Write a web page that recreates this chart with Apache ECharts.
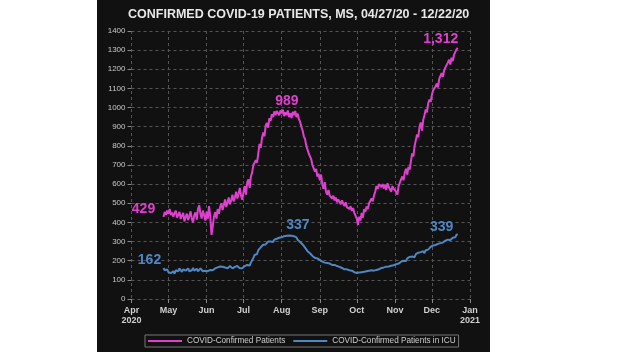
<!DOCTYPE html>
<html><head><meta charset="utf-8">
<script src="https://cdn.jsdelivr.net/npm/echarts@6/dist/echarts.min.js"></script>
<style>
html,body{margin:0;padding:0;background:#fff;width:622px;height:352px;overflow:hidden}
#c{position:absolute;left:97px;top:0;width:393px;height:352px;background:#111}
</style></head><body><div id="c"></div>
<script>
// Daily series from 2020-04-27 to 2020-12-22
const startDate = [2020, 3, 27];
const confirmed = [
 429,455,440,462,
 445,470,438,452,430,448,462,425,440,455,418,436,450,405,428,446,412,432,458,420,400,438,452,415,470,490,445,420,462,438,410,
 455,420,485,430,335,380,430,455,420,470,445,480,500,465,490,520,480,505,530,495,515,545,510,530,560,525,550,580,540,518,
 560,590,545,610,625,580,640,660,700,690,725,712,760,810,790,840,870,850,905,920,895,945,930,965,950,980,960,982,975,960,985,
 970,989,955,975,960,985,950,970,945,978,960,982,950,968,940,925,900,880,850,835,800,790,760,745,730,700,690,665,680,640,655,
 620,650,600,575,610,560,545,570,540,550,525,540,515,530,505,520,510,495,515,500,485,505,480,490,470,485,460,475,450,440,
 420,388,430,410,450,425,470,455,484,470,500,490,525,510,540,560,590,575,600,607,585,600,578,595,570,605,585,575,560,590,575,
 580,560,545,590,600,625,640,620,660,680,650,690,676,720,760,745,800,830,860,845,900,922,880,935,960,990,975,1020,1042,1030,
 1065,1090,1080,1110,1125,1105,1150,1165,1180,1160,1195,1210,1200,1235,1250,1225,1260,1243,1275,1290,1304,1312
];
const icu = [
 162,150,145,155,
 140,150,135,128,145,132,150,158,145,160,150,142,155,165,148,152,160,145,155,150,162,148,155,158,145,150,160,152,145,155,148,
 150,145,140,152,143,150,148,160,155,165,158,170,162,168,175,165,170,160,169,172,165,160,170,168,162,172,165,160,170,161,
 165,172,170,178,185,175,190,200,215,230,240,235,255,262,270,265,283,290,285,295,300,292,300,305,298,310,305,315,312,320,318,
 322,315,328,320,330,337,332,325,330,322,328,318,322,310,305,298,300,285,278,268,260,250,245,239,232,225,220,215,210,212,205,
 204,200,195,198,190,186,188,182,185,180,178,175,178,170,172,165,168,160,162,158,155,152,155,148,150,145,148,142,140,138,
 136,133,138,135,140,138,142,140,145,142,148,145,150,152,148,155,152,158,155,160,162,158,165,163,169,166,170,168,174,172,176,
 178,182,187,185,192,195,190,200,205,198,212,208,220,215,222,230,218,235,228,242,235,245,238,250,239,255,262,258,268,272,
 274,280,285,282,290,288,295,292,298,295,300,305,302,310,312,308,318,320,325,322,335,339
];
const seriesNames = ['COVID-Confirmed Patients', 'COVID-Confirmed Patients in ICU'];
const monthNames = ['Jan','Feb','Mar','Apr','May','Jun','Jul','Aug','Sep','Oct','Nov','Dec'];
const titleText = 'CONFIRMED COVID-19 PATIENTS, MS, 04/27/20 - 12/22/20';

const dates = confirmed.map((_, i) => new Date(startDate[0], startDate[1], startDate[2] + i).getTime());
const pinkData = confirmed.map((v, i) => [dates[i], v]);
const blueData = icu.map((v, i) => [dates[i], v]);
const axisMin = new Date(2020, 3, 1).getTime();
const axisMax = new Date(2021, 0, 1).getTime();

function peakIdx(arr, lo, hi) { let b = lo; for (let i = lo; i < hi; i++) if (arr[i] > arr[b]) b = i; return b; }
const pPeak = peakIdx(confirmed, 0, 150), bPeak = peakIdx(icu, 0, 150);
const pLast = confirmed.length - 1, bLast = icu.length - 1;
const fmt = v => Number(v).toLocaleString('en-US');

function mp(idx, arr, color, off) {
  return { coord: [dates[idx], arr[idx]], value: arr[idx], symbol: 'circle', symbolSize: 1,
    itemStyle: { color: 'rgba(0,0,0,0)' },
    label: { show: true, position: 'inside', offset: off, color: color, fontSize: 14, fontWeight: 'bold',
      fontFamily: 'Liberation Sans', formatter: p => fmt(p.value) } };
}
const PINK = '#e040cf', BLUE = '#4f86c4';
const chart = echarts.init(document.getElementById('c'), null, { renderer: 'canvas' });
chart.setOption({
  backgroundColor: '#111',
  animation: false,
  title: { text: titleText, left: 31, top: 8, padding: 0,
    textStyle: { color: '#e8e8e8', fontSize: 12.5, fontWeight: 'bold', fontFamily: 'Liberation Sans' } },
  grid: { left: 34.5, right: 20, top: 31, bottom: 53, containLabel: false },
  legend: { bottom: 5, left: 48, itemWidth: 34, itemHeight: 2, icon: 'rect', itemGap: 8,
    borderColor: '#777', borderWidth: 1, padding: [2, 3], backgroundColor: '#111',
    textStyle: { color: '#cfcfcf', fontSize: 8.2, fontFamily: 'Liberation Sans' },
    data: seriesNames },
  xAxis: { type: 'time', min: axisMin, max: axisMax, splitNumber: 9,
    axisLine: { show: false },
    axisTick: { show: true, length: 4, lineStyle: { color: '#888' } },
    splitLine: { show: true, lineStyle: { color: '#555', type: [3, 3], width: 1 } },
    axisLabel: { color: '#d0d0d0', fontSize: 9, fontWeight: 'bold', fontFamily: 'Liberation Sans',
      margin: 7, lineHeight: 10, showMinLabel: true, showMaxLabel: true,
      formatter: function (v) { const d = new Date(v); const m = monthNames[d.getMonth()];
        if (v <= axisMin || v >= axisMax) return m + '\n' + d.getFullYear(); return m; } } },
  yAxis: { type: 'value', min: 0, max: 1400, interval: 100,
    axisLine: { show: false },
    axisTick: { show: true, length: 4, lineStyle: { color: '#888' } },
    splitLine: { show: true, lineStyle: { color: '#555', type: [3, 3], width: 1 } },
    axisLabel: { color: '#c8c8c8', fontSize: 8, fontFamily: 'Liberation Sans', margin: 6, formatter: v => String(v) } },
  series: [
    { name: seriesNames[0], type: 'line', data: pinkData, showSymbol: false, color: PINK,
      lineStyle: { width: 2, color: PINK },
      markPoint: { silent: true, data: [ mp(0, confirmed, PINK, [-20, -8]), mp(pPeak, confirmed, PINK, [4, -9]), mp(pLast, confirmed, PINK, [-17, -9]) ] } },
    { name: seriesNames[1], type: 'line', data: blueData, showSymbol: false, color: BLUE,
      lineStyle: { width: 2, color: BLUE },
      markPoint: { silent: true, data: [ mp(0, icu, BLUE, [-14, -8]), mp(bPeak, icu, BLUE, [10, -9]), mp(bLast, icu, BLUE, [-16, -7]) ] } }
  ]
});
</script></body></html>
